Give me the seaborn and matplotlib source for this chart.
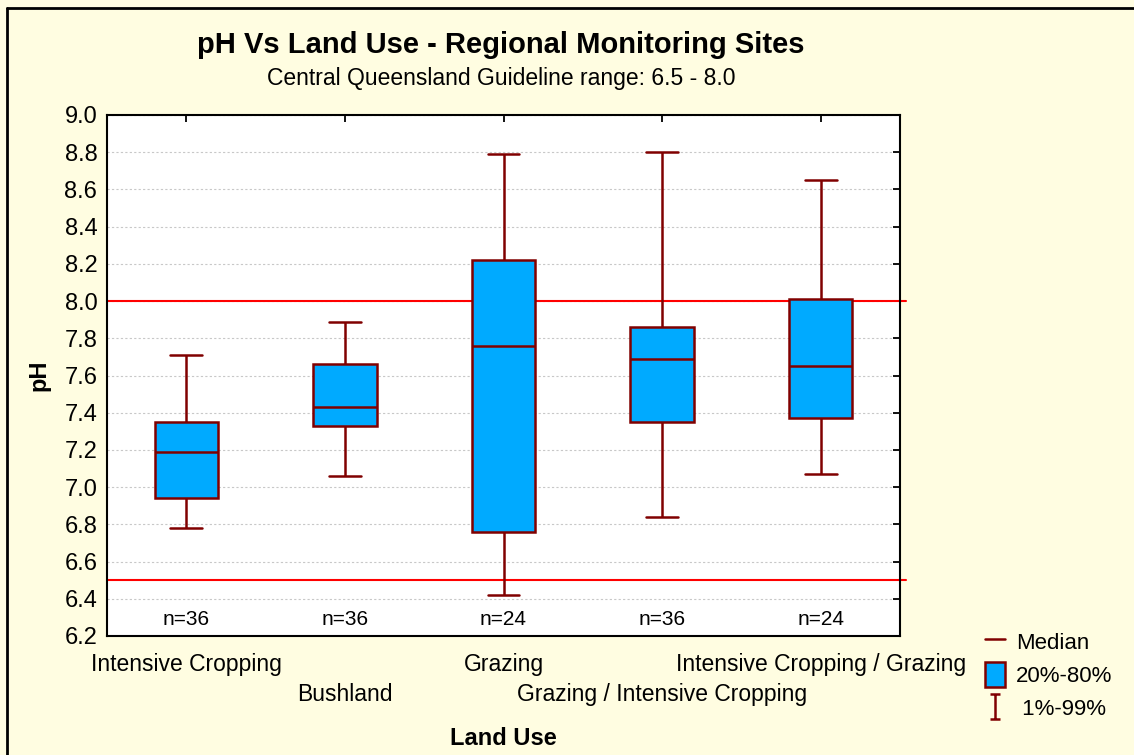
import numpy as np
import pandas as pd
import seaborn as sns
import matplotlib.pyplot as plt
from matplotlib.lines import Line2D
from matplotlib.patches import Patch
from matplotlib.path import Path

# -----------------------------
# Data
# -----------------------------
categories = ["Intensive Cropping", "Bushland", "Grazing",
              "Grazing / Intensive Cropping", "Intensive Cropping / Grazing"]
p01 = [6.78, 7.06, 6.42, 6.84, 7.07]
p20 = [6.94, 7.33, 6.76, 7.35, 7.37]
median = [7.19, 7.43, 7.76, 7.69, 7.65]
p80 = [7.35, 7.66, 8.22, 7.86, 8.01]
p99 = [7.71, 7.89, 8.79, 8.80, 8.65]
n_counts = [36, 36, 24, 36, 24]
guideline_low, guideline_high = 6.5, 8.0

# five summary points per group -> quartiles of these land on the 20/80 values
rows = []
for i, cat in enumerate(categories):
    for v in (p01[i], p20[i], median[i], p80[i], p99[i]):
        rows.append({"Land Use": cat, "pH": v})
df = pd.DataFrame(rows)

# -----------------------------
# Plot
# -----------------------------
sns.set_style("white")
plt.rcParams['font.family'] = ['Liberation Sans', 'DejaVu Sans']
plt.rcParams.update({"text.color": "black", "axes.labelcolor": "black",
                     "xtick.color": "black", "ytick.color": "black"})

bg = "#FFFDE1"
box_fill = "#00AAFF"
dark_red = "#800000"

fig = plt.figure(figsize=(11.34, 7.55), dpi=100, facecolor=bg)
ax = fig.add_axes([107 / 1134, 1 - 636 / 755, (900 - 107) / 1134, (636 - 115) / 755])
ax.set_facecolor("white")

sns.boxplot(data=df, x="Land Use", y="pH", order=categories, whis=(0, 100),
            width=0.4, color=box_fill, linecolor=dark_red, saturation=1,
            linewidth=1.8, showfliers=False, ax=ax, zorder=3)

# guideline range
ax.axhline(guideline_high, color="red", lw=1.5, zorder=2, xmax=1.008, clip_on=False)
ax.axhline(guideline_low, color="red", lw=1.5, zorder=2, xmax=1.008, clip_on=False)

# n= labels
for i, n in enumerate(n_counts):
    ax.text(i, 6.29, f"n={n}", ha="center", va="center", fontsize=15)

ax.set_xlim(-0.5, 4.5)
ax.set_ylim(6.2, 9.0)
ax.set_yticks(np.arange(6.2, 9.01, 0.2))
ax.set_yticklabels([f"{t:.1f}" for t in np.arange(6.2, 9.01, 0.2)], fontsize=17)
ax.set_xticks(range(len(categories)))
ax.set_xticklabels(categories, fontsize=16.5)
ax.yaxis.grid(True, linestyle=(0, (2, 2)), color="#C8C8C8", lw=0.8, zorder=0)
ax.set_axisbelow(True)
ax.tick_params(direction="in", top=True, right=True, length=5, width=1.3, pad=7)
ax.tick_params(axis="x", pad=12)
# stagger the labels onto two rows
for k, tick in enumerate(ax.xaxis.get_major_ticks()):
    if k % 2 == 1:
        tick.set_pad(34)
for s in ax.spines.values():
    s.set_visible(True)
    s.set_color("black")
    s.set_linewidth(1.5)

ax.set_ylabel("pH", fontsize=17, fontweight="bold", labelpad=10)
ax.set_xlabel("Land Use", fontsize=17, fontweight="bold", labelpad=15)

# titles
fig.text(501 / 1134, 1 - 45 / 755, "pH Vs Land Use - Regional Monitoring Sites",
         ha="center", va="center", fontsize=21, fontweight="bold")
fig.text(501 / 1134, 1 - 78 / 755, "Central Queensland Guideline range: 6.5 - 8.0",
         ha="center", va="center", fontsize=16.5)

# legend
ibeam = Path([(-0.4, -1), (0.4, -1), (0, -1), (0, 1), (-0.4, 1), (0.4, 1)],
             [Path.MOVETO, Path.LINETO, Path.MOVETO, Path.LINETO, Path.MOVETO, Path.LINETO])
handles = [
    Line2D([], [], color=dark_red, lw=1.8),
    Patch(facecolor=box_fill, edgecolor=dark_red, linewidth=1.8),
    Line2D([], [], linestyle="none", marker=ibeam, markersize=18,
           markeredgecolor=dark_red, markeredgewidth=1.8),
]
fig.legend(handles, ["Median", "20%-80%", " 1%-99%"], loc="upper left",
           bbox_to_anchor=(965 / 1134, 1 - 609 / 755), frameon=False, fontsize=16,
           handlelength=0.9, handleheight=1.3, handletextpad=0.5, labelspacing=0.4)

# outer frame (left and top edges only are visible)
fig.add_artist(Line2D([7 / 1134, 7 / 1134], [0, 1 - 8 / 755], color="black", lw=2,
                      transform=fig.transFigure))
fig.add_artist(Line2D([7 / 1134, 1], [1 - 8 / 755, 1 - 8 / 755], color="black", lw=2,
                      transform=fig.transFigure))

fig.savefig("out.png", dpi=100, facecolor=bg)
